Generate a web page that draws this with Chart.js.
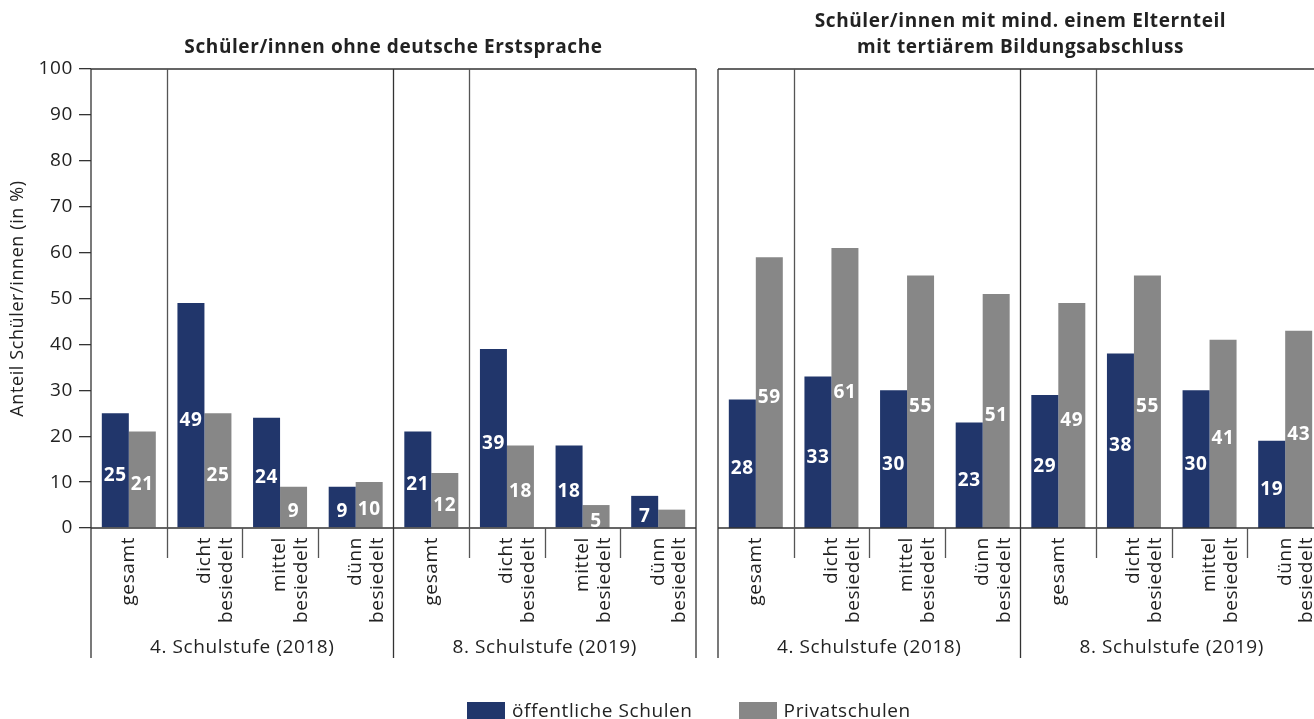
<!DOCTYPE html>
<html lang="de">
<head>
<meta charset="utf-8">
<title>Schüler/innen an öffentlichen Schulen und Privatschulen</title>
<script src="https://cdn.jsdelivr.net/npm/chart.js@4.4.1/dist/chart.umd.min.js"></script>
<style>
  html, body { margin: 0; padding: 0; background: #fff; overflow: hidden; }
  body { width: 1314px; height: 719px; position: relative; font-family: "Open Sans", sans-serif; color: #222; }
  canvas { position: absolute; top: 0; }
  #left { left: 0; }
  #right { left: 627px; }
  #legend { position: absolute; left: 467px; top: 699px; display: flex; align-items: center; font-size: 19px; line-height: 22px; letter-spacing: 0.6px; }
  #legend span.box { display: inline-block; width: 38px; height: 17px; margin-right: 7px; }
  #legend span.item { display: inline-flex; align-items: center; margin-right: 46px; }
</style>
</head>
<body>
<canvas id="left" width="706" height="719"></canvas>
<canvas id="right" width="706" height="719"></canvas>
<div id="legend"></div>
<script>
// Kategorien je Schulstufe
const tickLabels = [
  'gesamt', ['dicht', 'besiedelt'], ['mittel', 'besiedelt'], ['dünn', 'besiedelt'],
  'gesamt', ['dicht', 'besiedelt'], ['mittel', 'besiedelt'], ['dünn', 'besiedelt']
];
const groupLabels = ['4. Schulstufe (2018)', '8. Schulstufe (2019)'];
const seriesNames = ['öffentliche Schulen', 'Privatschulen'];

// Schüler/innen ohne deutsche Erstsprache (in %)
const spracheOeffentlich = [25, 49, 24, 9, 21, 39, 18, 7];
const sprachePrivat = [21, 25, 9, 10, 12, 18, 5, 4];

// mind. ein Elternteil mit tertiärem Bildungsabschluss (in %)
const bildungOeffentlich = [28, 33, 30, 23, 29, 38, 30, 19];
const bildungPrivat = [59, 61, 55, 51, 49, 55, 41, 43];

const COLORS = ['#21366b', '#878787'];
const FONT = '"Open Sans", sans-serif';
const TEXT = '#222';

// etwas weiter laufende Schrift
const spacingPlugin = {
  id: 'spacing',
  beforeDraw(chart) { chart.ctx.letterSpacing = '0.6px'; }
};

// Rahmen, Trennlinien und Schulstufen-Beschriftung
const framePlugin = {
  id: 'frame',
  afterDraw(chart) {
    const { ctx, chartArea: a, scales: { x } } = chart;
    const n = tickLabels.length;
    const longEnd = a.bottom + 130;
    const shortEnd = a.bottom + 30;
    const mid = i => (x.getPixelForValue(i - 1) + x.getPixelForValue(i)) / 2;

    ctx.save();
    ctx.lineWidth = 1.3;
    ctx.strokeStyle = '#333';
    ctx.beginPath();
    ctx.moveTo(a.left, a.top); ctx.lineTo(a.right, a.top);
    ctx.moveTo(a.left, a.bottom); ctx.lineTo(a.right, a.bottom);
    ctx.moveTo(a.left, a.top); ctx.lineTo(a.left, longEnd);
    ctx.moveTo(a.right, a.top); ctx.lineTo(a.right, longEnd);
    const half = n / 2;
    ctx.moveTo(mid(half), a.top); ctx.lineTo(mid(half), longEnd);
    ctx.stroke();

    ctx.strokeStyle = '#555';
    ctx.beginPath();
    for (let i = 1; i < n; i++) {
      if (i === half) continue;
      const px = Math.round(mid(i)) + 0.5;
      // nach "gesamt" geht die Linie durch die ganze Fläche
      const top = (i % half === 1) ? a.top : a.bottom;
      ctx.moveTo(px, top); ctx.lineTo(px, shortEnd);
    }
    ctx.stroke();

    ctx.fillStyle = TEXT;
    ctx.font = '19px ' + FONT;
    ctx.textAlign = 'center';
    ctx.textBaseline = 'middle';
    groupLabels.forEach((g, k) => {
      const l = k === 0 ? a.left : mid(half);
      const r = k === 0 ? mid(half) : a.right;
      ctx.fillText(g, (l + r) / 2, a.bottom + 120);
    });
    ctx.restore();
  }
};

// Zahlenwerte weiß in der Mitte der Balken
const valuePlugin = {
  id: 'values',
  afterDatasetsDraw(chart) {
    const { ctx } = chart;
    ctx.save();
    ctx.fillStyle = '#fff';
    ctx.font = 'bold 19px ' + FONT;
    ctx.textAlign = 'center';
    ctx.textBaseline = 'middle';
    chart.data.datasets.forEach((ds, di) => {
      chart.getDatasetMeta(di).data.forEach((bar, i) => {
        const v = ds.data[i];
        if (v < 5) return; // zu kurz für die Zahl
        ctx.fillText(String(v), bar.x, (bar.y + bar.base) / 2 + 5);
      });
    });
    ctx.restore();
  }
};

function createPanel(canvas, title, pub, priv, withAxis) {
  return new Chart(canvas, {
    type: 'bar',
    data: {
      labels: tickLabels,
      datasets: [
        { label: seriesNames[0], data: pub, backgroundColor: COLORS[0] },
        { label: seriesNames[1], data: priv, backgroundColor: COLORS[1] }
      ]
    },
    options: {
      responsive: false,
      animation: false,
      datasets: { bar: { categoryPercentage: 0.714, barPercentage: 1, borderWidth: 0 } },
      layout: { padding: { left: 0, right: 10, top: 0, bottom: 0 } },
      plugins: {
        legend: { display: false },
        tooltip: { enabled: false },
        title: {
          display: true,
          text: title,
          fullSize: false,
          color: TEXT,
          font: { family: FONT, size: 19, weight: 'bold', lineHeight: 1.35 },
          padding: Array.isArray(title) ? { top: 9.2, bottom: 8.5 } : { top: 35.2, bottom: 8.15 }
        }
      },
      scales: {
        x: {
          grid: { display: false, drawTicks: false },
          border: { display: false },
          ticks: {
            autoSkip: false, maxRotation: 90, minRotation: 90, padding: 9,
            color: TEXT, font: { family: FONT, size: 19, lineHeight: 1.15 }
          },
          afterFit(scale) {
            scale.height = 191;
            scale.paddingLeft = 0;
            scale.paddingRight = 0;
          }
        },
        y: {
          display: withAxis,
          min: 0, max: 100,
          border: { display: false },
          grid: { drawOnChartArea: false, tickLength: 12, color: '#333', lineWidth: 1.3 },
          ticks: { stepSize: 10, padding: 6, color: TEXT, font: { family: FONT, size: 19 } },
          title: {
            display: true, text: 'Anteil Schüler/innen (in %)', color: TEXT,
            font: { family: FONT, size: 18 }, padding: { top: 7, bottom: 0 }
          },
          afterFit(scale) { scale.width = 91; }
        }
      }
    },
    plugins: [spacingPlugin, framePlugin, valuePlugin]
  });
}

createPanel(document.getElementById('left'), 'Schüler/innen ohne deutsche Erstsprache',
  spracheOeffentlich, sprachePrivat, true);
createPanel(document.getElementById('right'),
  ['Schüler/innen mit mind. einem Elternteil', 'mit tertiärem Bildungsabschluss'],
  bildungOeffentlich, bildungPrivat, false);

// Legende
const legend = document.getElementById('legend');
seriesNames.forEach((name, i) => {
  const item = document.createElement('span');
  item.className = 'item';
  const box = document.createElement('span');
  box.className = 'box';
  box.style.background = COLORS[i];
  item.appendChild(box);
  item.appendChild(document.createTextNode(name));
  legend.appendChild(item);
});
</script>
</body>
</html>
